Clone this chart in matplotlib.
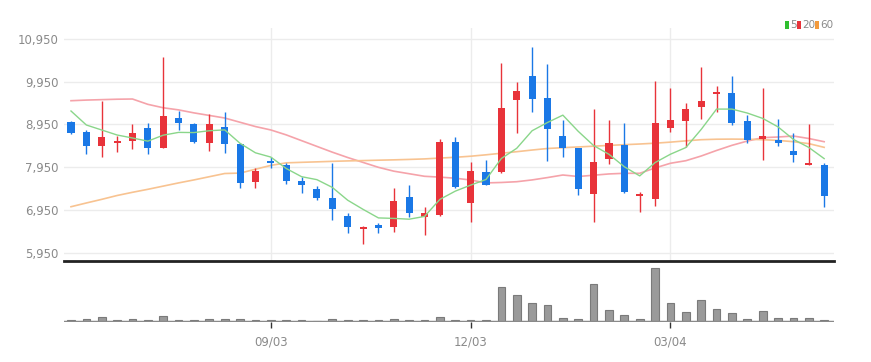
import numpy as np
import matplotlib.pyplot as plt
from matplotlib.patches import Rectangle

# --- daily candles ---
opens = [9010, 8765, 8451, 8522, 8568, 8859, 8404, 9093, 8959, 8521,
         8896, 8491, 7594, 8093, 7999, 7624, 7430, 7233, 6805, 6493,
         6587, 6540, 7257, 6774, 6828, 8545, 7116, 7842, 7828, 9521,
         10090, 9561, 8685, 8390, 7313, 8133, 8467, 7273, 7196, 8859,
         9037, 9364, 9655, 9692, 9030, 8615, 8585, 8327, 7992, 7999]
highs = [9030, 8819, 9505, 8678, 8959, 8976, 10521, 9264, 8980, 9193,
         9240, 8505, 7922, 8193, 8053, 7725, 7507, 8039, 6882, 6560,
         6634, 7467, 7531, 7008, 8601, 8662, 8076, 8116, 10381, 9936,
         10756, 10357, 9053, 8400, 9311, 9053, 8976, 7374, 9973, 9795,
         9458, 10287, 9849, 10083, 9170, 9795, 9069, 8756, 8959, 8039]
lows = [8730, 8257, 8180, 8311, 8374, 8257, 8390, 8819, 8510, 8334,
        8273, 7453, 7453, 7922, 7547, 7350, 7180, 6711, 6400, 6149,
        6414, 6437, 6788, 6360, 6810, 7453, 6671, 7520, 7820, 8742,
        9247, 8100, 8193, 7296, 6671, 8022, 7350, 6905, 7039, 8779,
        8428, 9069, 9247, 8936, 8507, 8116, 8444, 8076, 7990, 7022]
closes = [8760, 8450, 8648, 8561, 8742, 8390, 9147, 8976, 8538, 8959,
          8491, 7570, 7866, 8039, 7624, 7531, 7219, 6962, 6540, 6554,
          6524, 7163, 6868, 6868, 8545, 7491, 7866, 7531, 9327, 9739,
          9545, 8835, 8390, 7430, 8076, 8521, 7374, 7320, 8990, 9053,
          9304, 9498, 9702, 8990, 8585, 8678, 8507, 8233, 8053, 7273]
volumes = [15, 25, 45, 15, 25, 15, 57, 15, 15, 25,
           27, 25, 15, 15, 15, 15, 12, 27, 15, 15,
           15, 25, 15, 15, 50, 20, 20, 15, 350, 273,
           190, 173, 35, 25, 377, 123, 67, 25, 533, 190,
           100, 223, 133, 90, 25, 107, 43, 40, 40, 22]

# moving averages as drawn
ma5 = [9264, 8936, 8819, 8702, 8632, 8558, 8698, 8763, 8759, 8802,
       8822, 8507, 8285, 8185, 7918, 7726, 7656, 7475, 7175, 6961,
       6760, 6749, 6730, 6795, 7194, 7387, 7528, 7660, 8152, 8391,
       8802, 8995, 9167, 8788, 8455, 8250, 7958, 7744, 8056, 8252,
       8408, 8833, 9309, 9309, 9216, 9091, 8892, 8599, 8411, 8149]
ma20 = [9505, 9520, 9530, 9540, 9545, 9420, 9340, 9290, 9220, 9160,
        9100, 9000, 8900, 8820, 8705, 8570, 8435, 8300, 8175, 8060,
        7945, 7855, 7795, 7735, 7715, 7690, 7648, 7580, 7590, 7608,
        7650, 7705, 7765, 7730, 7760, 7790, 7805, 7805, 7930, 8040,
        8100, 8210, 8340, 8460, 8560, 8640, 8655, 8678, 8620, 8545]
ma60 = [7022, 7110, 7195, 7285, 7360, 7430, 7505, 7580, 7650, 7725,
        7800, 7810, 7900, 7990, 8050, 8062, 8073, 8085, 8095, 8103,
        8112, 8120, 8130, 8142, 8162, 8180, 8205, 8238, 8275, 8311,
        8350, 8386, 8405, 8422, 8440, 8458, 8475, 8491, 8510, 8535,
        8565, 8592, 8603, 8606, 8603, 8592, 8575, 8545, 8500, 8413]

date_ticks = [13, 26, 39]
date_labels = ['09/03', '12/03', '03/04']
price_ticks = [5950, 6950, 7950, 8950, 9950, 10950]
legend_labels = ['5', '20', '60']
legend_colors = ['#2fbf2f', '#e8333a', '#f39a3c']

UP = '#e8333a'
DOWN = '#1a78e6'
GRID = '#ececec'
TXT = '#8a8a8a'

plt.rcParams['font.family'] = ['Liberation Sans Narrow', 'DejaVu Sans']

fig = plt.figure(figsize=(8.71, 3.62), dpi=100)
W, H = 871, 362
ax = fig.add_axes([64 / W, (H - 261) / H, (834 - 64) / W, (261 - 28) / H])
axv = fig.add_axes([64 / W, (H - 322) / H, (834 - 64) / W, (322 - 263) / H])

x = np.arange(len(closes))
o = np.array(opens)
c = np.array(closes)
up = c >= o
colors = np.where(up, UP, DOWN)

# wicks and bodies
ax.vlines(x, lows, highs, color=colors, linewidth=1.0, zorder=3)
body_lo = np.minimum(o, c)
body_h = np.maximum(np.abs(c - o), 50)
ax.bar(x, body_h, bottom=body_lo, width=0.46, color=colors, linewidth=0, zorder=4)

# moving averages
ax.plot(x, ma20, color='#f5a3aa', linewidth=1.2, zorder=2)
ax.plot(x, ma60, color='#f8c391', linewidth=1.2, zorder=2)
ax.plot(x, ma5, color='#8ad68a', linewidth=1.0, zorder=5)

xlim = (-0.455, 49.64)
ax.set_xlim(*xlim)
ax.set_ylim(5751, 11208)
ax.set_yticks(price_ticks)
ax.set_yticklabels([f'{v:,}' for v in price_ticks])
ax.set_xticks(date_ticks)
ax.set_xticklabels([])
ax.grid(True, color=GRID, linewidth=1)
ax.tick_params(axis='y', length=0, pad=4, labelsize=8.5, labelcolor=TXT)
ax.tick_params(axis='x', length=0)
for s in ['top', 'right', 'left']:
    ax.spines[s].set_visible(False)
ax.spines['bottom'].set_color('#222222')
ax.spines['bottom'].set_linewidth(2)

# legend in the top right corner (pixel positions)
lx = [785, 797, 815]
for px, lab, col in zip(lx, legend_labels, legend_colors):
    fig.patches.append(Rectangle((px / W, (H - 29) / H), 4 / W, 8 / H,
                                 transform=fig.transFigure, facecolor=col,
                                 edgecolor='none'))
    fig.text((px + 5.5) / W, (H - 25) / H, lab, color=TXT, fontsize=7.5,
             ha='left', va='center')

# volume
axv.bar(x, volumes, width=0.5, color='#9a9a9a', edgecolor='#7a7a7a', linewidth=0.8)
axv.axhline(0, color='#8a8a8a', linewidth=2.5)
axv.set_xlim(*xlim)
axv.set_ylim(0, max(volumes) * 1.1)
axv.set_yticks([])
axv.set_xticks(date_ticks)
axv.set_xticklabels(date_labels)
axv.tick_params(axis='x', length=4, width=1, color='#333333', labelsize=8.5,
                labelcolor=TXT, pad=6)
for s in ['top', 'right', 'left', 'bottom']:
    axv.spines[s].set_visible(False)

fig.savefig('out.png', dpi=100, facecolor='white')
